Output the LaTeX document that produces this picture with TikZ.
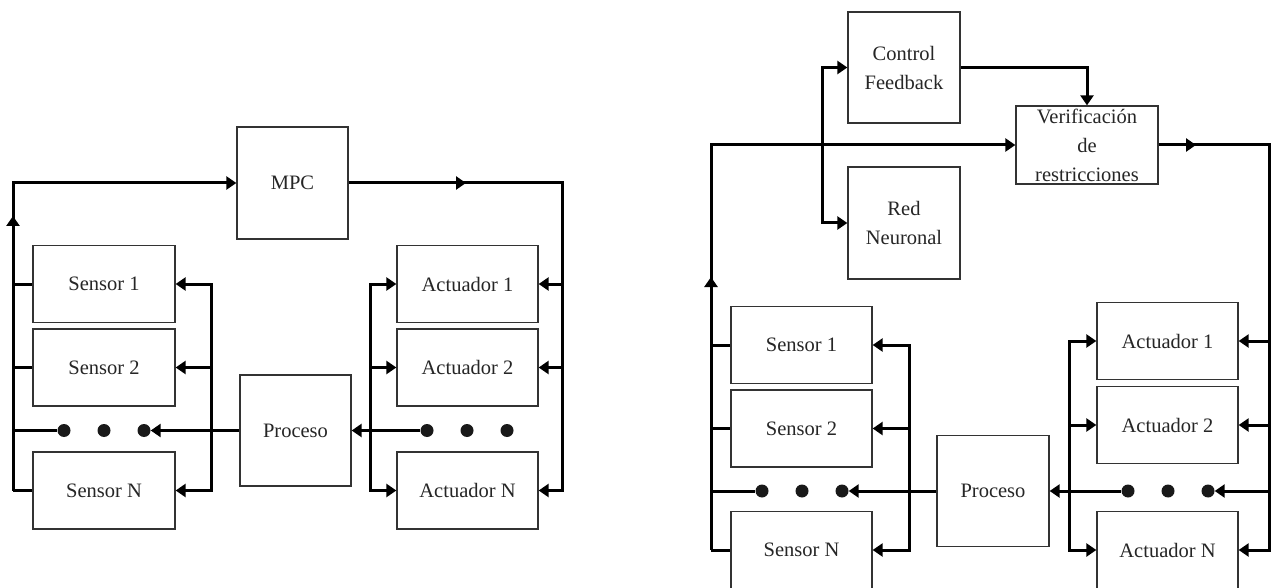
\documentclass[tikz,border=0pt]{standalone}
\usepackage{fontspec}
\setmainfont{Liberation Serif}
\usetikzlibrary{arrows.meta}
\begin{document}
\begin{tikzpicture}[x=1pt,y=-1pt,
  box/.style={draw=black!80, line width=1.3pt, fill=white, inner sep=0pt,
    font=\fontsize{20.5}{29}\selectfont, text=black!85, align=center},
  sbox/.style={box, minimum width=142pt, minimum height=77pt},
  pbox/.style={box, minimum width=111pt, minimum height=111pt},
  dotn/.style={circle, fill=black!90, minimum size=13pt, inner sep=0pt},
  conn/.style={line width=3pt, black, line join=miter},
  arr/.style={conn, -{Triangle[length=10pt,width=13pt]}},
  arrb/.style={conn, {Triangle[length=10pt,width=13pt]}-{Triangle[length=10pt,width=13pt]}}]
\useasboundingbox (0,0) rectangle (1272,588);

% ================= LEFT DIAGRAM =================
\node[pbox, minimum height=112pt] (mpc) at (292.5,183) {MPC};
\node[sbox] (s1L) at (104,284) {Sensor 1};
\node[sbox] (s2L) at (104,367.5) {Sensor 2};
\node[sbox] (snL) at (104,490.5) {Sensor N};
\node[pbox] (procL) at (295.5,430.5) {Proceso};
\node[sbox, minimum width=141pt] (a1L) at (467.5,284) {Actuador 1};
\node[sbox, minimum width=141pt] (a2L) at (467.5,367.5) {Actuador 2};
\node[sbox, minimum width=141pt] (anL) at (467.5,490.5) {Actuador N};
\node[dotn] (dl1) at (64,430.5) {};
\node[dotn] (dl2) at (104,430.5) {};
\node[dotn] (dl3) at (144,430.5) {};
\node[dotn] (da1) at (427,430.5) {};
\node[dotn] (da2) at (467,430.5) {};
\node[dotn] (da3) at (507,430.5) {};

\coordinate (lbT) at (13,183);
\coordinate (lbB) at (13,490.5);
\coordinate (lbUp) at (13,216);
\coordinate (rbT) at (562,183);
\coordinate (rbB) at (562,490.5);
\coordinate (rbMid) at (466,183);
\coordinate (sfT) at (211,284);
\coordinate (sfB) at (211,490.5);
\coordinate (abT) at (370,284);
\coordinate (abB) at (370,490.5);

\draw[arr] (lbB) -- (lbT) -- (mpc.west);
\draw[arr] (13,240) -- (lbUp);
\draw[conn] (lbT |- s1L.west) -- (s1L.west);
\draw[conn] (lbT |- s2L.west) -- (s2L.west);
\draw[conn] (lbT |- dl1) -- (dl1);
\draw[conn] (lbB) -- (snL.west);

\draw[arr] (mpc.east) -- (rbT) -- (rbB) -- (anL.east);
\draw[arr] (440,183) -- (rbMid);
\draw[arr] (rbT |- a1L.east) -- (a1L.east);
\draw[arr] (rbT |- a2L.east) -- (a2L.east);

\draw[arrb] (s1L.east) -- (sfT) -- (sfB) -- (snL.east);
\draw[arr] (sfT |- s2L.east) -- (s2L.east);

\draw[arrb] (a1L.west) -- (abT) -- (abB) -- (anL.west);
\draw[arr] (abT |- a2L.west) -- (a2L.west);

\draw[arr] (procL.west) -- (dl3);
\draw[arr] (da1) -- (procL.east);

% ================= RIGHT DIAGRAM =================
\node[pbox, minimum width=112pt] (cf) at (904,67.5) {Control\\Feedback};
\node[pbox, minimum width=112pt, minimum height=112pt] (rn) at (904,223) {Red\\Neuronal};
\node[box, minimum width=142pt, minimum height=78pt] (vr) at (1087,145) {Verificación\\de\\restricciones};
\node[sbox, minimum width=141pt] (s1R) at (801.5,345) {Sensor 1};
\node[sbox, minimum width=141pt] (s2R) at (801.5,428.5) {Sensor 2};
\node[sbox, minimum width=141pt] (snR) at (801.5,550) {Sensor N};
\node[pbox, minimum width=112pt] (procR) at (993,491) {Proceso};
\node[sbox, minimum width=141pt] (a1R) at (1167.5,341) {Actuador 1};
\node[sbox, minimum width=141pt] (a2R) at (1167.5,425) {Actuador 2};
\node[sbox, minimum width=141pt] (anR) at (1167.5,550) {Actuador N};
\node[dotn] (dr1) at (762,491) {};
\node[dotn] (dr2) at (802,491) {};
\node[dotn] (dr3) at (842,491) {};
\node[dotn] (ea1) at (1128,491) {};
\node[dotn] (ea2) at (1168,491) {};
\node[dotn] (ea3) at (1208,491) {};

\coordinate (LbT) at (711,145);
\coordinate (LbB) at (711,550);
\coordinate (LbUp) at (711,277);
\coordinate (cfT) at (1087,67.5);
\coordinate (nvT) at (822,67.5);
\coordinate (nvB) at (822,223);
\coordinate (RbT) at (1269,145);
\coordinate (RbB) at (1269,550);
\coordinate (RbMid) at (1196,145);
\coordinate (SfT) at (909,345);
\coordinate (SfB) at (909,550);
\coordinate (AbT) at (1069,341);
\coordinate (AbB) at (1069,550);

\draw[arr] (LbB) -- (LbT) -- (vr.west);
\draw[arr] (711,300) -- (LbUp);
\draw[conn] (LbT |- s1R.west) -- (s1R.west);
\draw[conn] (LbT |- s2R.west) -- (s2R.west);
\draw[conn] (LbT |- dr1) -- (dr1);
\draw[conn] (LbB) -- (snR.west);

\draw[arr] (cf.east) -- (cfT) -- (vr.north);
\draw[arrb] (cf.west) -- (nvT) -- (nvB) -- (rn.west);

\draw[arr] (vr.east) -- (RbT) -- (RbB) -- (anR.east);
\draw[arr] (1175,145) -- (RbMid);
\draw[arr] (RbT |- a1R.east) -- (a1R.east);
\draw[arr] (RbT |- a2R.east) -- (a2R.east);
\draw[arr] (RbT |- ea3) -- (ea3);

\draw[arrb] (s1R.east) -- (SfT) -- (SfB) -- (snR.east);
\draw[arr] (SfT |- s2R.east) -- (s2R.east);

\draw[arrb] (a1R.west) -- (AbT) -- (AbB) -- (anR.west);
\draw[arr] (AbT |- a2R.west) -- (a2R.west);

\draw[arr] (procR.west) -- (dr3);
\draw[arr] (ea1) -- (procR.east);
\end{tikzpicture}
\end{document}
